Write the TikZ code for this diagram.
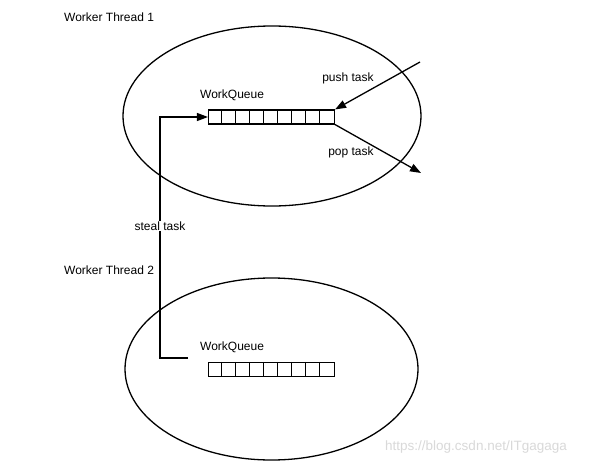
\documentclass[tikz,border=0pt]{standalone}
\usepackage{fontspec}
\setmainfont{Liberation Sans}
\usetikzlibrary{arrows.meta,calc}
\begin{document}
\begin{tikzpicture}[x=1pt,y=-1pt,
  lbl/.style={inner sep=1pt,font=\fontsize{12}{14}\selectfont},
  queue/.style={draw,line width=1.1pt,minimum width=126pt,minimum height=14pt,inner sep=0pt},
  conn/.style={line width=1.3pt},
  arr/.style={conn,-{Triangle[length=11pt,width=8pt]}}]
\useasboundingbox (0,0) rectangle (606,466);
\fill[white] (0,0) rectangle (606,466);
% threads
\draw[line width=1.3pt] (272,116) ellipse [x radius=149, y radius=90];
\draw[line width=1.3pt] (271.5,369) ellipse [x radius=146.5, y radius=91];
\node[lbl,anchor=west] (t1) at (63,17) {Worker Thread 1};
\node[lbl,anchor=west] (t2) at (63,270) {Worker Thread 2};
% queues
\node[queue] (q1) at (271.5,117) {};
\node[queue] (q2) at (271.5,369.5) {};
\foreach \i in {1,...,8}{
  \draw[line width=1pt] ($(q1.north west)+(\i*14,0)$) -- ($(q1.south west)+(\i*14,0)$);
  \draw[line width=1pt] ($(q2.north west)+(\i*14,0)$) -- ($(q2.south west)+(\i*14,0)$);
}
\node[lbl,anchor=west] (w1) at (199,95) {WorkQueue};
\node[lbl,anchor=west] (w2) at (199,347) {WorkQueue};
% push / pop
\coordinate (pushs) at (420,62);
\coordinate (pope) at (421,173);
\draw[arr] (pushs) -- (q1.north east);
\draw[arr] (q1.south east) -- (pope);
\node[lbl] (pushl) at (348,78) {push task};
\node[lbl] (popl) at (351,152) {pop task};
% steal
\coordinate (s0) at (188,358);
\coordinate (s1) at (160,358);
\coordinate (s2) at (160,117);
\draw[arr] (s0) -- (s1) -- (s2) -- (q1.west);
\node[lbl,fill=white] (steal) at (160,226) {steal task};
% watermark
\node[lbl,text=black!15,font=\fontsize{13.5}{16}\selectfont,anchor=west] (wm) at (384,447) {https://blog.csdn.net/ITgagaga};
\end{tikzpicture}
\end{document}
